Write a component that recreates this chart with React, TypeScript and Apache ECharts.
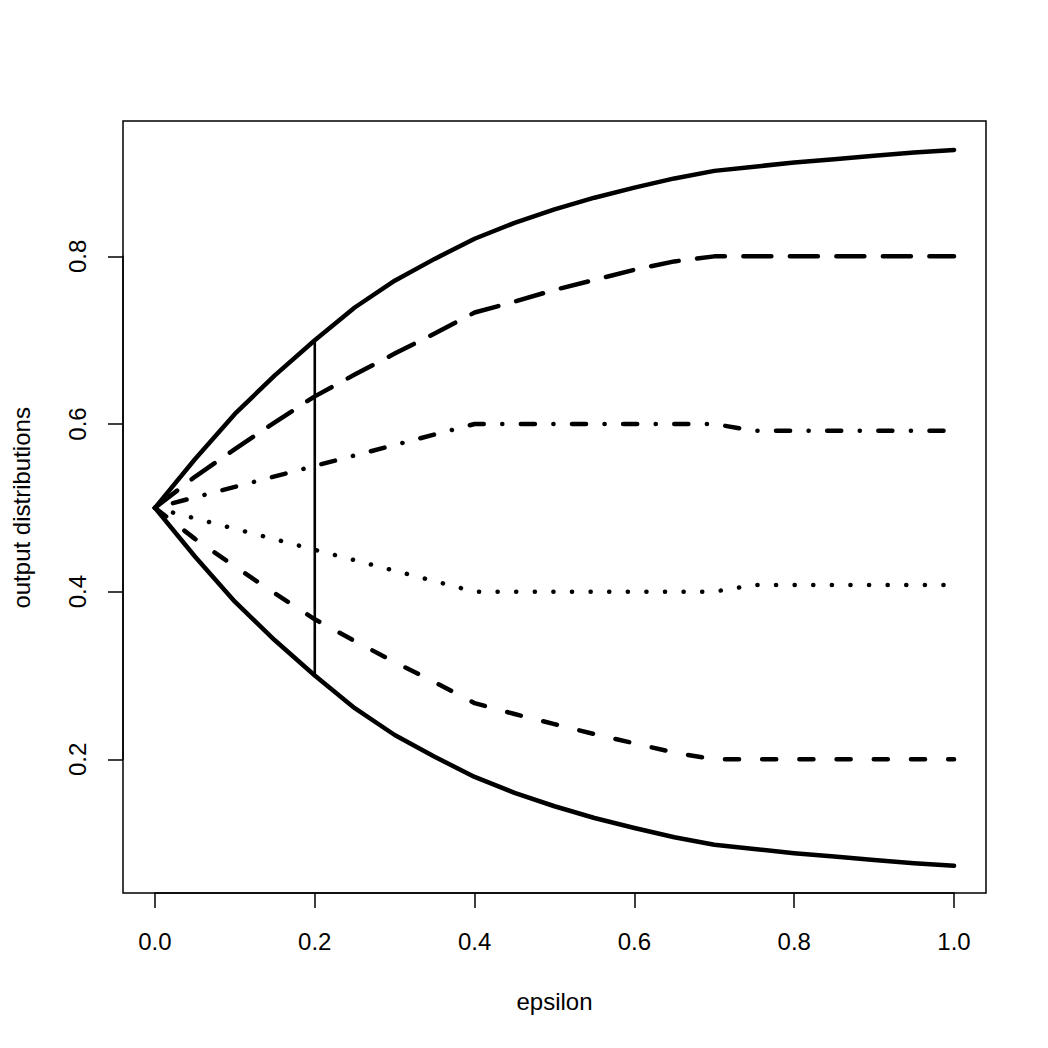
import React, { useEffect, useRef } from "react";
import * as echarts from "echarts";

const epsilon = [0, 0.05, 0.1, 0.15, 0.2, 0.25, 0.3, 0.35, 0.4, 0.45, 0.5, 0.55, 0.6, 0.65, 0.7, 0.75, 0.8, 0.85, 0.9, 0.95, 1.0];
const upperSolid = [0.5, 0.558, 0.612, 0.658, 0.7, 0.739, 0.771, 0.797, 0.821, 0.84, 0.856, 0.87, 0.882, 0.893, 0.902, 0.907, 0.912, 0.916, 0.92, 0.924, 0.927];
const upperLongDash = [0.5, 0.537, 0.57, 0.602, 0.633, 0.659, 0.684, 0.708, 0.733, 0.746, 0.76, 0.772, 0.784, 0.794, 0.8, 0.8, 0.8, 0.8, 0.8, 0.8, 0.8];
const upperDotDash = [0.5, 0.5125, 0.525, 0.5375, 0.55, 0.5625, 0.575, 0.5875, 0.6, 0.6, 0.6, 0.6, 0.6, 0.6, 0.6, 0.592, 0.592, 0.592, 0.592, 0.592, 0.592];
const lowerDotted = [0.5, 0.4875, 0.475, 0.4625, 0.45, 0.4375, 0.425, 0.4125, 0.4, 0.4, 0.4, 0.4, 0.4, 0.4, 0.4, 0.408, 0.408, 0.408, 0.408, 0.408, 0.408];
const lowerDash = [0.5, 0.463, 0.43, 0.398, 0.367, 0.341, 0.316, 0.292, 0.267, 0.254, 0.242, 0.23, 0.219, 0.208, 0.2, 0.2, 0.2, 0.2, 0.2, 0.2, 0.2];
const lowerSolid = [0.5, 0.442, 0.388, 0.342, 0.3, 0.261, 0.229, 0.203, 0.179, 0.16, 0.144, 0.13, 0.118, 0.107, 0.098, 0.093, 0.088, 0.084, 0.08, 0.076, 0.073];
const markerEpsilon = [0.2, 0.2];
const markerRange = [0.3, 0.7];
const xTicks = [0, 0.2, 0.4, 0.6, 0.8, 1.0];
const yTicks = [0.2, 0.4, 0.6, 0.8];
const xLabel = "epsilon";
const yLabel = "output distributions";

const W = 1048;
const BOX = { left: 123, right: 986, top: 121, bottom: 893 };
const XR = [-0.04, 1.04];
const YR = [0.0405, 0.9615];
const FONT = "'Liberation Sans', Arial, Helvetica, sans-serif";
const LW = 4.5;
const K = 4.65;

function pat(units: number[]): number[] {
  return units.map((u, i) => (i % 2 === 0 ? Math.max(u * K - LW, 0.15) : u * K + LW));
}

export default function App() {
  const ref = useRef<HTMLDivElement>(null);
  useEffect(() => {
    if (!ref.current) return;
    const chart = echarts.init(ref.current, null, { renderer: "svg" });
    const pxX = (BOX.right - BOX.left) / (XR[1] - XR[0]);
    const pxY = (BOX.bottom - BOX.top) / (YR[1] - YR[0]);
    const x0 = BOX.left + (xTicks[0] - XR[0]) * pxX;
    const x1 = BOX.left + (xTicks[xTicks.length - 1] - XR[0]) * pxX;
    const yLo = BOX.bottom - (yTicks[0] - YR[0]) * pxY;
    const yHi = BOX.bottom - (yTicks[yTicks.length - 1] - YR[0]) * pxY;

    const mk = (d: number[]) => epsilon.map((e, i) => [e, d[i]]);
    const line = (name: string, d: number[], type: any) => ({
      name,
      type: "line",
      xAxisIndex: 0,
      yAxisIndex: 0,
      data: mk(d),
      showSymbol: false,
      symbol: "none",
      lineStyle: { color: "#000", width: LW, type, cap: "round", join: "round" },
    });

    const axisText = { color: "#000", fontFamily: FONT, fontSize: 24 };

    chart.setOption({
      animation: false,
      backgroundColor: "#fff",
      grid: [
        {
          left: BOX.left,
          top: BOX.top,
          width: BOX.right - BOX.left,
          height: BOX.bottom - BOX.top,
          show: true,
          borderColor: "#000",
          borderWidth: 1.5,
          backgroundColor: "transparent",
        },
        {
          left: x0,
          top: yHi,
          width: x1 - x0,
          height: yLo - yHi,
        },
      ],
      xAxis: [
        { gridIndex: 0, type: "value", min: XR[0], max: XR[1], show: false },
        {
          gridIndex: 1,
          type: "value",
          min: 0,
          max: 1,
          interval: 0.2,
          position: "bottom",
          offset: BOX.bottom - yLo,
          axisLine: { show: true, onZero: false, lineStyle: { color: "#000", width: 1.5 } },
          axisTick: { show: true, inside: false, length: 15, lineStyle: { color: "#000", width: 1.5 } },
          splitLine: { show: false },
          axisLabel: { ...axisText, margin: 36, formatter: (v: number) => v.toFixed(1) },
          name: xLabel,
          nameLocation: "middle",
          nameGap: 96,
          nameTextStyle: axisText,
        },
      ],
      yAxis: [
        { gridIndex: 0, type: "value", min: YR[0], max: YR[1], show: false },
        {
          gridIndex: 1,
          type: "value",
          min: 0.2,
          max: 0.8,
          interval: 0.2,
          position: "left",
          offset: x0 - BOX.left,
          axisLine: { show: true, onZero: false, lineStyle: { color: "#000", width: 1.5 } },
          axisTick: { show: true, inside: false, length: 15, lineStyle: { color: "#000", width: 1.5 } },
          splitLine: { show: false },
          axisLabel: { ...axisText, margin: 34, rotate: 90, formatter: (v: number) => v.toFixed(1) },
          name: yLabel,
          nameLocation: "middle",
          nameGap: 90,
          nameRotate: 90,
          nameTextStyle: axisText,
        },
      ],
      series: [
        line("upperSolid", upperSolid, "solid"),
        line("upperLongDash", upperLongDash, pat([7, 3])),
        line("upperDotDash", upperDotDash, pat([1, 3, 4, 3])),
        line("lowerDotted", lowerDotted, pat([1, 3])),
        line("lowerDash", lowerDash, pat([4, 4])),
        line("lowerSolid", lowerSolid, "solid"),
        {
          name: "marker",
          type: "line",
          xAxisIndex: 0,
          yAxisIndex: 0,
          data: markerEpsilon.map((e, i) => [e, markerRange[i]]),
          showSymbol: false,
          symbol: "none",
          lineStyle: { color: "#000", width: 2.6 },
        },
      ],
    });
    return () => chart.dispose();
  }, []);
  return <div ref={ref} style={{ position: "absolute", left: 0, top: 0, width: W, height: W, background: "#fff" }} />;
}
